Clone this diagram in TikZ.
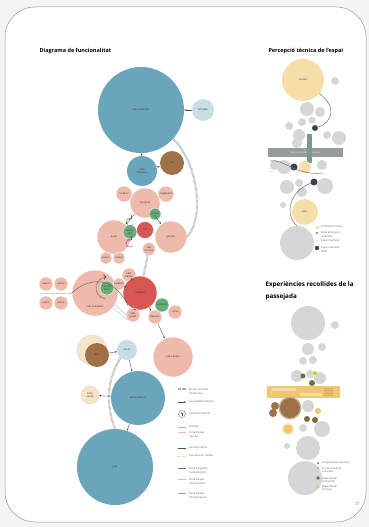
\documentclass[tikz,border=0pt]{standalone}
\usepackage{fontspec}
\setmainfont{Open Sans}
\usetikzlibrary{arrows.meta}

\definecolor{pagebg}{RGB}{244,244,244}
\definecolor{blueC}{RGB}{107,165,187}
\definecolor{lblueC}{RGB}{200,222,229}
\definecolor{pinkC}{RGB}{238,186,172}
\definecolor{redC}{RGB}{215,88,82}
\definecolor{greenC}{RGB}{104,172,122}
\definecolor{brownC}{RGB}{158,113,70}
\definecolor{beigeC}{RGB}{246,228,200}
\definecolor{grayC}{RGB}{214,214,214}
\definecolor{yellowC}{RGB}{245,222,168}
\definecolor{navyC}{RGB}{58,66,84}
\definecolor{barC}{RGB}{150,156,156}
\definecolor{tealC}{RGB}{122,152,146}
\definecolor{orangeC}{RGB}{241,198,112}
\definecolor{oliveC}{RGB}{120,110,60}

\newcommand{\circlbl}{\fontsize{2.6}{3}\selectfont}
\newcommand{\legtxt}{\fontsize{2.6}{3.1}\selectfont}
\newcommand{\paneltitle}{\fontsize{5.5}{6.5}\selectfont\bfseries}

\begin{document}
\begin{tikzpicture}[x=1pt,y=-1pt,
  bub/.style={circle, inner sep=0pt, minimum size=#1, align=center, font=\circlbl, text=black!80},
  blu/.style={bub=#1, fill=blueC},
  lblu/.style={bub=#1, fill=lblueC},
  pnk/.style={bub=#1, fill=pinkC, draw=white, line width=0.4pt},
  vrm/.style={bub=#1, fill=redC, draw=white, line width=0.4pt},
  grn/.style={bub=#1, fill=greenC, draw=white, line width=0.4pt},
  brw/.style={bub=#1, fill=brownC},
  bge/.style={bub=#1, fill=beigeC, draw=brownC!30, line width=0.3pt},
  gry/.style={bub=#1, fill=grayC},
  ylw/.style={bub=#1, fill=yellowC},
  nvy/.style={bub=#1, fill=navyC},
  arr/.style={-{Stealth[length=2.2pt,width=1.8pt]}, line width=0.35pt, draw=black!70},
  hatch/.style={draw=black!32, line width=2.2pt, dash pattern=on 0.5pt off 0.7pt},
  vcirc/.style={draw=black!80, line width=0.4pt, dash pattern=on 0.8pt off 0.6pt},
  flux/.style={draw=lblueC!80!blueC, line width=0.8pt, dash pattern=on 0.6pt off 0.6pt},
  curve/.style={draw=black!60, line width=0.45pt},
  legtx/.style={anchor=west, font=\legtxt, align=left, text=black!65, inner sep=0pt}]

% page and sheet
\useasboundingbox (0,0) rectangle (369,527);
\fill[pagebg] (0,0) rectangle (369,527);
\draw[black!40, line width=0.5pt, fill=white, rounded corners=30pt] (5,7) rectangle (366,522);

% titles
\node[anchor=west, font=\paneltitle] (t1) at (36,51) {Diagrama de funcionalitat};
\node[anchor=west, font=\paneltitle] (t2) at (265,51) {Percepció tècnica de l'espai};
\node[anchor=west, font=\fontsize{6.3}{11.5}\selectfont\bfseries, align=left] (t3) at (262,291) {Experiències recollides de la\\passejada};

% ---------- diagram of functions ----------
% upper spaces
\node[blu=86] (pza) at (141,110) {plaça exterior};
\node[lblu=22] (ent) at (203,110) {entrada};
\node[blu=30] (esp) at (142,171) {àrea\\d'espera};
\node[brw=24] (bar) at (172,163) {bar};

\draw[arr] (ent) -- (pza);
\draw[arr] (pza) -- (esp);
\draw[arr] (bar) -- (esp);

% first pink group
\node[pnk=34] (aul) at (114,237) {aules};
\node[pnk=32] (gim) at (171,237) {gimnàs};
\node[pnk=30] (rec) at (145,203) {recepció};
\node[pnk=16] (lav) at (124,194) {lavabos};
\node[pnk=16] (mag) at (166,194) {magatzem};
\node[pnk=13] (tec) at (149,249) {sala\\tècnica};
\node[pnk=12] (au1) at (106,258) {aula 1};
\node[pnk=12] (au2) at (119,258) {aula 2};
\node[vrm=17] (hall) at (145,230) {hall};
\node[grn=14] (asc) at (130,232) {ascen-\\sor};
\node[grn=12] (esc) at (155,214) {escala};

\draw[hatch] (pza.-42) .. controls (196,160) and (206,215) .. (gim.east);
\draw[arr] (rec) -- (aul);
\draw[arr] (rec) -- (gim);
\draw[vcirc, ->] ([shift={(0,-10)}]asc.center) ++(40:4) arc[start angle=40, end angle=300, radius=4];
\draw[vcirc, ->] ([shift={(0,11)}]asc.center) ++(40:4) arc[start angle=40, end angle=300, radius=4];

% second pink group
\node[pnk=46] (pol) at (95,293) {};
\node[font=\circlbl, text=black!80] (polt) at (95,307) {sala polivalent};
\node[pnk=14] (a3) at (46,284) {aula 3};
\node[pnk=14] (a4) at (61,284) {aula 4};
\node[pnk=14] (a5) at (46,303) {aula 5};
\node[pnk=14] (a6) at (61,303) {aula 6};
\node[pnk=14] (act) at (129,275) {sala\\d'actes};
\node[pnk=12] (lv2) at (119,284) {lavabos};
\node[vrm=34] (ves) at (140,293) {vestíbul};
\node[grn=14] (esn) at (107,288) {escala\\nova};
\node[pnk=14] (grp) at (133,315) {sala\\grups};
\node[pnk=14] (des) at (155,317) {despatx};
\node[pnk=14] (cui) at (175,312) {cuina};
\node[grn=14] (as2) at (162,305) {ascensor};
\node[pnk=40] (pet) at (173,357) {pista petita};

\draw[hatch] (tec) -- (ves);
\coordinate (lft) at (40,293);
\draw[flux, -{Stealth[length=2pt,width=1.8pt]}] (lft) -- (pol.west);
\draw[curve] (pol.west) .. controls (85,280) and (112,272) .. (ves.south west);
\draw[vcirc, ->] (esn.center) ++(100:11) arc[start angle=100, end angle=265, radius=11];
\draw[arr] (act) -- (ves);
\draw[arr] (lv2) -- (ves);
\draw[draw=lblueC!70!blueC, line width=0.5pt] (pol.-30) -- (grp.west);
\draw[draw=lblueC!70!blueC, line width=0.5pt] (pol.-40) -- (grp.south west);
\draw[arr] (ves) -- (grp);
\draw[arr] (ves) -- (des);
\draw[arr] (des) -- (pet);

% lower spaces
\node[bge=30] (ter) at (92,350) {};
\node[brw=24] (br2) at (97,355) {bar};
\node[lblu=20] (acc) at (127,350) {accés};
\node[blu=54] (pex) at (138,398) {pista exterior};
\node[bge=18] (zv) at (90,395) {zona\\verda};
\node[blu=76] (pat) at (115,467) {pati};

\draw[hatch] (acc.-130) .. controls (104,385) and (108,410) .. (pat.north);
\draw[arr] (br2) -- (acc);
\draw[arr] (acc) -- (pex);
\draw[arr] (pex) -- (zv);
\draw[arr] (pex) -- (pat);

% legend
\draw[hatch] (178,389) -- (186,389);
\node[legtx] (l1) at (189,391.5) {Eix de circulació\\horitzontal};
\draw[arr] (178,402) -- (186,402);
\node[legtx] (l2) at (189,402) {Accessibilitat directa};
\draw[vcirc] (182,414) circle (3.5);
\draw[arr] (182,416) -- (182,412);
\node[legtx] (l3) at (189,414) {Circulació vertical};
\draw[pinkC!80!redC, line width=0.7pt] (178,427) -- (186,427);
\node[legtx] (l4) at (189,427) {Entrada};
\draw[pinkC, line width=0.7pt] (178,432) -- (186,432);
\node[legtx] (l5) at (189,434.5) {Zona d'espai\\interior};
\draw[black!70, line width=0.8pt] (178,448) -- (186,448);
\node[legtx] (l6) at (189,448) {Sortida interna};
\draw[yellowC, line width=0.6pt, dash pattern=on 0.6pt off 0.6pt] (178,456) -- (186,456);
\node[legtx] (l7) at (189,456) {Flux exterior del bar};
\draw[black!55, line width=0.6pt] (178,468) -- (186,468);
\node[legtx] (l8) at (189,470.5) {Zona de gestió i\\manteniment};
\draw[lblueC!70!blueC, line width=0.6pt] (178,479) -- (186,479);
\node[legtx] (l9) at (189,481.5) {Zona d'espai\\interior obert};
\draw[black!35, line width=0.6pt] (178,493) -- (186,493);
\node[legtx] (l10) at (189,495.5) {Zona d'espai\\interior tancat};

% ---------- technical perception ----------
\foreach \x/\y/\d [count=\i] in {335/81/8, 307/109/14, 320/112/10, 302/122/8, 312/120/7,
    289/126/8, 299/135/12, 327/135/8, 339/138/14, 297/143/10, 275/165/10, 284/167/14,
    322/165/10, 287/187/14, 299/183/8, 302/192/10, 325/186/16, 283/205/6}
  \node[gry=\d] (pa\i) at (\x,\y) {};
\node[gry=34] (gbig) at (297,243) {};
\node[ylw=42] (ybig) at (303,80) {escola};
\node[ylw=26] (ymid) at (305,212) {parc};

\fill[barC] (268,148) rectangle (343,157);
\node[font=\fontsize{2.4}{3}\selectfont, text=white!85!barC] (barl) at (305,152.5) {carrer de la Independència};
\fill[tealC] (307,134) rectangle (312,163);
\node[ylw=12] (ysm) at (305,167) {};
\node[nvy=6] (nv1) at (315,128) {};
\node[nvy=7] (nv2) at (294,167) {};
\node[nvy=7] (nv3) at (314,182) {};
\node[font=\fontsize{2.2}{2.6}\selectfont, text=orangeC, align=left] (ynote) at (272,170) {accés\\nord};

\coordinate (cw) at (270,161);
\coordinate (ce) at (323,173);
\draw[curve] (ybig.-40) .. controls (336,105) and (334,122) .. (nv1);
\draw[curve] (cw) .. controls (284,158) and (294,176) .. (ce);
\draw[curve] (nv3) .. controls (288,192) and (285,216) .. (gbig.north);

\fill[yellowC] (315.5,225.5) rectangle (318.5,228.5);
\node[legtx] (r1) at (321,227) {Circulació interna};
\fill[grayC!70!black] (317,233) circle (1.4);
\node[legtx] (r2) at (321,234.5) {Zona amb poca\\visibilitat};
\fill[yellowC!60] (317,241) circle (1.4);
\node[legtx] (r3) at (321,241) {Espai il·luminat};
\fill[navyC] (317,248) circle (2.2);
\node[legtx] (r4) at (321,249.5) {Espai il·luminat\\dèbil};

% ---------- collected experiences ----------
\foreach \x/\y/\d [count=\i] in {308/323/34, 335/325/8, 308/349/12, 322/347/8, 303/361/8,
    313/360/8, 297/376/12, 310/374/8, 320/378/12, 308/406/12, 303/428/8, 322/429/16,
    287/446/6, 308/448/24, 305/478/34}
  \node[gry=\d] (pb\i) at (\x,\y) {};

\fill[orangeC] (267,386) rectangle (340,398);
\fill[orangeC!60!white] (272,388) rectangle (296,391);
\fill[orangeC!60!white] (300,393) rectangle (322,396);
\fill[orangeC!80!brownC] (324,388) rectangle (333,396);

\node[bub=23, fill=brownC!55] (brr) at (290,408) {};
\node[brw=20] (brb) at (290,408) {};
\node[brw=8] (bs1) at (275,406) {};
\node[brw=8] (bs2) at (273,413) {};
\node[bub=5, fill=oliveC] (ov1) at (303,376) {};
\node[bub=6, fill=oliveC] (ov2) at (312,383) {};
\node[bub=6, fill=oliveC] (ov3) at (307,419) {};
\node[bub=6, fill=oliveC] (ov4) at (315,420) {};
\node[bub=4, fill=yellow!70!green] (yg) at (315,373) {};
\node[bub=6, fill=orangeC] (or1) at (318,411) {};
\node[bub=12, fill=orangeC!45] (orr) at (288,429) {};
\node[bub=9, fill=orangeC] (or2) at (288,429) {};

\fill[grayC!60!black] (318,463) circle (1.2);
\node[legtx] (b1) at (322,463) {Les persones usuàries};
\fill[grayC!80!black] (318,468) circle (1.2);
\node[legtx] (b2) at (322,470) {Eix de circulació\\principal};
\fill[oliveC] (318,478) circle (1.8);
\node[legtx] (b3) at (322,480) {Espai d'estar\\amb soroll};
\fill[orangeC] (318,487) circle (1.8);
\node[legtx] (b4) at (322,488.5) {Espai d'estar\\tranquil};

\node[font=\fontsize{4}{4}\selectfont\itshape, text=black!50] (pg) at (357,504) {37};

\end{tikzpicture}
\end{document}
